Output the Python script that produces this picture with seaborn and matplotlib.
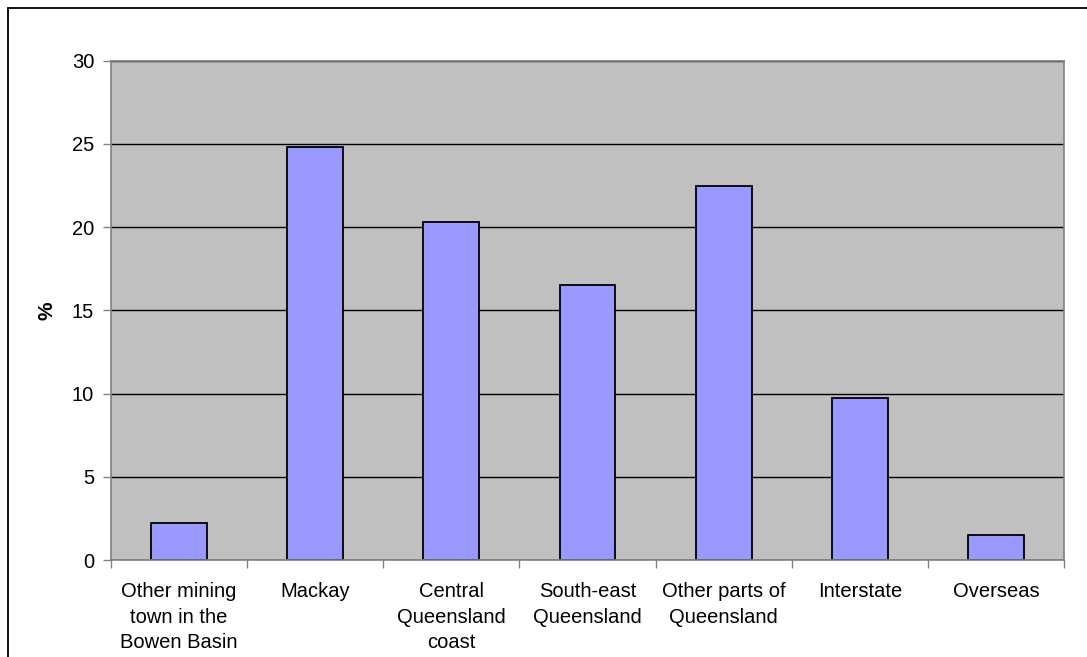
import matplotlib
matplotlib.use("Agg")
import matplotlib.pyplot as plt
import seaborn as sns
from matplotlib.lines import Line2D
from matplotlib.ticker import FixedLocator

# Where residents lived before moving to town (% of respondents)
categories = [
    "Other mining\ntown in the\nBowen Basin",
    "Mackay",
    "Central\nQueensland\ncoast",
    "South-east\nQueensland",
    "Other parts of\nQueensland",
    "Interstate",
    "Overseas",
]
values = [2.2, 24.8, 20.3, 16.5, 22.5, 9.75, 1.5]
y_ticks = [0, 5, 10, 15, 20, 25, 30]

sns.set_theme(style="white")
plt.rcParams["font.family"] = ["Liberation Sans", "DejaVu Sans"]

fig = plt.figure(figsize=(10.87, 6.57), dpi=100)
ax = fig.add_axes([0.102, 0.1476, 0.877, 0.760])
ax.set_facecolor("#C0C0C0")

sns.barplot(x=categories, y=values, color="#9999FF", saturation=1,
            edgecolor="black", linewidth=1.3, width=0.41, ax=ax)

ax.set_ylim(0, 30)
ax.set_xlim(-0.5, len(categories) - 0.5)
ax.set_yticks(y_ticks)
ax.set_yticklabels([str(t) for t in y_ticks], fontsize=14.5, color="black")
ax.yaxis.grid(True, color="black", linewidth=1.0)
ax.set_axisbelow(True)

# category labels centred, tick marks on the boundaries
ax.set_xticks(range(len(categories)))
ax.set_xticklabels(categories, fontsize=14.5, color="black", linespacing=1.42,
                   va="top")
ax.tick_params(axis="x", which="major", length=0, pad=16)
ax.xaxis.set_minor_locator(FixedLocator([i - 0.5 for i in range(len(categories) + 1)]))
ax.tick_params(axis="x", which="minor", bottom=True, length=6, width=1.0,
               color="#808080", direction="out")
ax.tick_params(axis="y", left=True, length=6, width=1.0, color="#808080",
               direction="out", pad=6)

for side in ["left", "right", "top", "bottom"]:
    ax.spines[side].set_visible(True)
    ax.spines[side].set_color("#808080")
    ax.spines[side].set_linewidth(1.2)

ax.set_xlabel("")
ax.set_ylabel("%", fontsize=15, fontweight="bold", color="black", labelpad=11)

# chart frame along top and left edges
fig.add_artist(Line2D([8 / 1087, 8 / 1087], [0, 1 - 8 / 657],
                      transform=fig.transFigure, color="black", linewidth=1.3))
fig.add_artist(Line2D([8 / 1087, 1], [1 - 8 / 657, 1 - 8 / 657],
                      transform=fig.transFigure, color="black", linewidth=1.3))

fig.savefig("out.png", dpi=100, facecolor="white")
